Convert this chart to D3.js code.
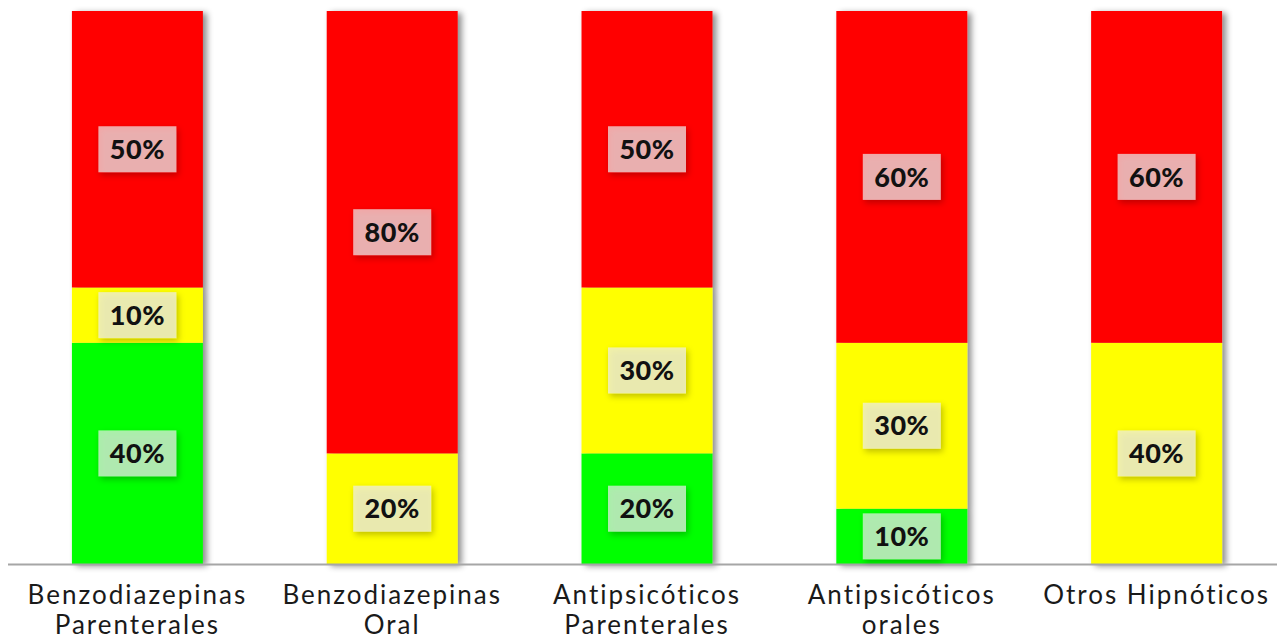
<!DOCTYPE html>
<html>
<head>
<meta charset="utf-8">
<script src="https://cdn.jsdelivr.net/npm/d3@7"></script>
<style>
  body { margin: 0; background: #fff; }
  svg { display: block; }
</style>
</head>
<body>
<div id="chart"></div>
<script>
'use strict';

const width = 1278;
const height = 639;

// data
const categories = [
    'Benzodiazepinas Parenterales',
    'Benzodiazepinas Oral',
    'Antipsicóticos Parenterales',
    'Antipsicóticos orales',
    'Otros Hipnóticos'
];
const categoryLines = [
    ['Benzodiazepinas', 'Parenterales'],
    ['Benzodiazepinas', 'Oral'],
    ['Antipsicóticos', 'Parenterales'],
    ['Antipsicóticos', 'orales'],
    ['Otros Hipnóticos']
];
const seriesKeys = ['verde', 'amarillo', 'rojo'];
const verde = [40, 0, 20, 10, 0];
const amarillo = [10, 20, 30, 30, 40];
const rojo = [50, 80, 50, 60, 60];
const seriesColors = ['#00ff00', '#ffff00', '#ff0000'];

const rows = categories.map((c, i) => ({
    cat: c,
    verde: verde[i],
    amarillo: amarillo[i],
    rojo: rojo[i]
}));

const stacked = d3.stack().keys(seriesKeys)(rows);

const x = d3.scaleBand()
    .domain(categories)
    .range([10, 1284])
    .paddingInner(0.486)
    .paddingOuter(0.243);

const y = d3.scaleLinear()
    .domain([0, 100])
    .range([564, 11]);

const color = d3.scaleOrdinal().domain(seriesKeys).range(seriesColors);

let svg = d3.select('#chart').append('svg')
    .attr('width', width)
    .attr('height', height);

let defs = svg.append('defs');
defs.append('filter')
    .attr('id', 'barShadow')
    .attr('x', '-10%').attr('y', '-5%')
    .attr('width', '130%').attr('height', '115%')
    .append('feDropShadow')
    .attr('dx', 4).attr('dy', 2)
    .attr('stdDeviation', 3)
    .attr('flood-color', '#000')
    .attr('flood-opacity', 0.45);

defs.append('filter')
    .attr('id', 'boxShadow')
    .attr('x', '-20%').attr('y', '-20%')
    .attr('width', '150%').attr('height', '160%')
    .append('feDropShadow')
    .attr('dx', 2).attr('dy', 3)
    .attr('stdDeviation', 3)
    .attr('flood-color', '#000')
    .attr('flood-opacity', 0.35);

// bars (one group per category so shadow sits on the whole column)
let barG = svg.append('g');
categories.forEach((c, i) => {
    let col = barG.append('g').attr('filter', 'url(#barShadow)');
    stacked.forEach(s => {
        const d = s[i];
        if (d[1] - d[0] <= 0) return;
        col.append('rect')
            .attr('x', x(c))
            .attr('y', y(d[1]))
            .attr('width', x.bandwidth())
            .attr('height', y(d[0]) - y(d[1]))
            .attr('fill', color(s.key));
    });
});

// axis line
svg.append('line')
    .attr('x1', 8).attr('x2', 1277)
    .attr('y1', 564.5).attr('y2', 564.5)
    .attr('stroke', '#a6a6a6')
    .attr('stroke-width', 2);

// value labels
let labelG = svg.append('g');
stacked.forEach(s => {
    s.forEach((d, i) => {
        const v = d[1] - d[0];
        if (v <= 0) return;
        const cx = x(categories[i]) + x.bandwidth() / 2;
        const cy = (y(d[0]) + y(d[1])) / 2;
        let lg = labelG.append('g').attr('transform', `translate(${cx},${cy})`);
        lg.append('rect')
            .attr('x', -39).attr('y', -23)
            .attr('width', 78).attr('height', 46)
            .attr('fill', '#ececec')
            .attr('fill-opacity', 0.7)
            .attr('filter', 'url(#boxShadow)');
        lg.append('text')
            .attr('text-anchor', 'middle')
            .attr('dy', '0.36em')
            .attr('font-family', 'Lato, "Noto Sans", sans-serif')
            .attr('font-weight', 900)
            .attr('font-size', 27)
            .attr('letter-spacing', 0.5)
            .attr('fill', '#111')
            .text(v + '%');
    });
});

// category labels
let catG = svg.append('g');
categories.forEach((c, i) => {
    let t = catG.append('text')
        .attr('x', x(c) + x.bandwidth() / 2)
        .attr('y', 604)
        .attr('text-anchor', 'middle')
        .attr('font-family', 'Lato, "Noto Sans", sans-serif')
        .attr('font-size', 26)
        .attr('letter-spacing', 2)
        .attr('fill', '#1a1a1a');
    categoryLines[i].forEach((line, j) => {
        t.append('tspan')
            .attr('x', x(c) + x.bandwidth() / 2)
            .attr('dy', j === 0 ? 0 : 30)
            .text(line);
    });
});
</script>
</body>
</html>
